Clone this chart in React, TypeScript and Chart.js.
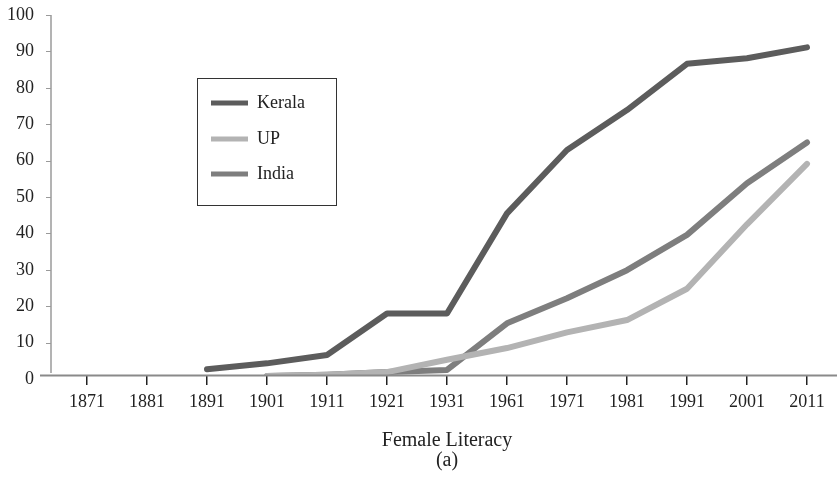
import { useEffect, useRef } from "react";
import { Chart, registerables } from "chart.js";

Chart.register(...registerables);

const years = ["1871", "1881", "1891", "1901", "1911", "1921", "1931", "1961", "1971", "1981", "1991", "2001", "2011"];
const kerala = [null, null, 2.7, 4.3, 6.6, 18.0, 18.0, 45.5, 62.9, 73.9, 86.6, 88.1, 91.1];
const up = [null, null, null, 0.8, 1.2, 1.9, 5.3, 8.5, 12.8, 16.2, 24.8, 42.5, 59.1];
const india = [null, null, null, 0.8, 1.2, 1.9, 2.5, 15.3, 22.2, 29.9, 39.6, 53.8, 65.0];
const yTicks = [0, 10, 20, 30, 40, 50, 60, 70, 80, 90, 100];
const seriesNames = ["Kerala", "UP", "India"];
const seriesColors = ["#5c5c5c", "#b3b3b3", "#7e7e7e"];
const axisTitle = ["Female Literacy", "(a)"];

const FONT = "'Liberation Serif', 'DejaVu Serif', serif";

const customPlugin = {
  id: "customAxesLegend",
  afterDatasetsDraw(chart: any) {
    const { ctx, chartArea } = chart;
    const y = chart.scales.y;
    ctx.save();
    // y axis line
    ctx.strokeStyle = "#9a9a9a";
    ctx.lineWidth = 1.5;
    ctx.beginPath();
    ctx.moveTo(51, y.getPixelForValue(100));
    ctx.lineTo(51, chartArea.bottom - 2);
    ctx.stroke();
    // y tick marks
    ctx.lineWidth = 1;
    yTicks.forEach((v) => {
      if (v === 0) return;
      const py = Math.round(y.getPixelForValue(v)) + 0.5;
      ctx.beginPath();
      ctx.moveTo(46, py);
      ctx.lineTo(51, py);
      ctx.stroke();
    });
    // x axis line
    ctx.strokeStyle = "#8a8a8a";
    ctx.lineWidth = 2;
    ctx.beginPath();
    ctx.moveTo(40, chartArea.bottom + 0.5);
    ctx.lineTo(chart.width, chartArea.bottom + 0.5);
    ctx.stroke();

    // legend
    const bx = 197, by = 78, bw = 139, bh = 127;
    ctx.fillStyle = "#ffffff";
    ctx.fillRect(bx, by, bw, bh);
    ctx.strokeStyle = "#333333";
    ctx.lineWidth = 1;
    ctx.strokeRect(bx + 0.5, by + 0.5, bw, bh);
    const rows = [103, 139, 174];
    ctx.font = `18px ${FONT}`;
    ctx.textBaseline = "middle";
    ctx.textAlign = "left";
    chart.data.datasets.forEach((ds: any, i: number) => {
      ctx.strokeStyle = ds.borderColor;
      ctx.lineWidth = 5;
      ctx.lineCap = "butt";
      ctx.beginPath();
      ctx.moveTo(211, rows[i]);
      ctx.lineTo(248, rows[i]);
      ctx.stroke();
      ctx.fillStyle = "#222222";
      ctx.fillText(ds.label, 257, rows[i]);
    });
    ctx.restore();
  },
};

export default function App() {
  const canvasRef = useRef<HTMLCanvasElement | null>(null);

  useEffect(() => {
    const canvas = canvasRef.current;
    if (!canvas) return;
    const seriesData = [kerala, up, india];
    const chart = new Chart(canvas, {
      type: "line",
      data: {
        labels: years,
        datasets: seriesNames.map((name, i) => ({
          label: name,
          data: seriesData[i],
          borderColor: seriesColors[i],
          backgroundColor: seriesColors[i],
          borderWidth: 6,
          borderCapStyle: "round",
          borderJoinStyle: "round",
          pointRadius: 0,
          pointHoverRadius: 0,
          tension: 0,
          fill: false,
          clip: 0,
        })),
      },
      options: {
        responsive: false,
        animation: false,
        devicePixelRatio: 1,
        layout: { padding: { top: 15, left: 0, right: 0, bottom: 0 } },
        plugins: {
          legend: { display: false },
          tooltip: { enabled: false },
          title: { display: false },
        },
        scales: {
          x: {
            type: "category",
            offset: true,
            grid: {
              display: true,
              drawOnChartArea: false,
              drawTicks: true,
              tickLength: 10,
              offset: false,
              color: "#222222",
              lineWidth: 1.5,
            },
            border: { display: false },
            ticks: {
              color: "#222222",
              font: { family: FONT, size: 18 },
              padding: 6,
              maxRotation: 0,
              autoSkip: false,
            },
            title: {
              display: true,
              text: axisTitle,
              color: "#222222",
              font: { family: FONT, size: 20, lineHeight: 1.0 },
              padding: { top: 0, bottom: 9 },
            },
            afterFit: (scale: any) => {
              scale.height = 105;
              scale.paddingTop = 0;
              scale.paddingBottom = 0;
            },
          },
          y: {
            type: "linear",
            min: 1.1,
            max: 100,
            grid: { display: false, drawTicks: false },
            border: { display: false },
            ticks: {
              color: "#222222",
              font: { family: FONT, size: 18 },
              padding: 23,
            },
            afterBuildTicks: (scale: any) => {
              scale.ticks = yTicks.map((v) => ({ value: v }));
            },
            afterFit: (scale: any) => {
              scale.width = 57;
              scale.paddingTop = 0;
              scale.paddingBottom = 0;
            },
          },
        },
      },
      plugins: [customPlugin],
    } as any);
    return () => chart.destroy();
  }, []);

  return (
    <div style={{ position: "absolute", left: 0, top: 0, width: 837, height: 480, background: "#fff" }}>
      <canvas ref={canvasRef} width={837} height={480} style={{ display: "block" }} />
    </div>
  );
}
